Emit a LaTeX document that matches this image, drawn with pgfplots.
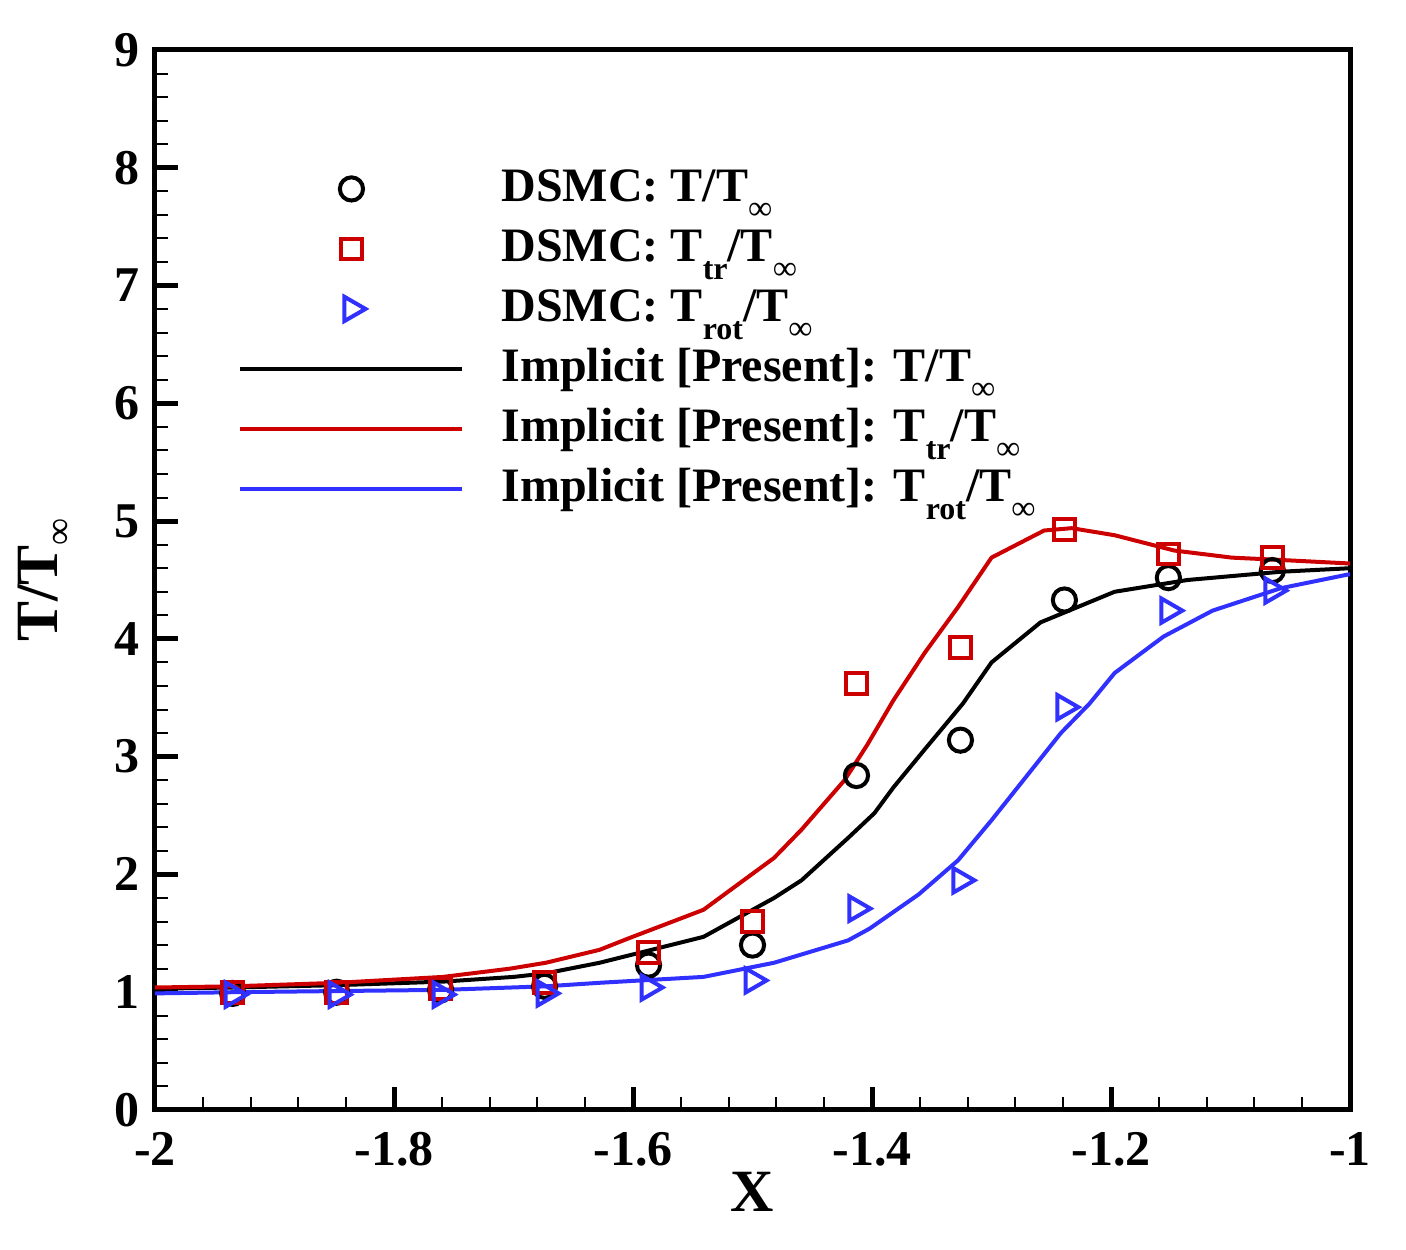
\documentclass[border=0pt]{standalone}
\usepackage{pgfplots}
\pgfplotsset{compat=1.18}
\usepackage{fontspec}
\setmainfont{Liberation Serif}
\definecolor{myred}{RGB}{204,0,0}
\definecolor{myblue}{RGB}{48,48,255}
\newcommand{\lsub}[1]{\raisebox{-9pt}{\fontsize{16}{16}\selectfont #1}}
\newcommand{\linf}{\raisebox{-9pt}{\fontsize{17}{17}\selectfont\mdseries ∞}}
\pgfplotsset{
  linelegend/.style={legend image code/.code={\draw[##1] (0pt,3.5pt) -- (111pt,3.5pt);}},
  marklegend/.style={legend image code/.code={\draw[##1] plot coordinates {(55.5pt,3.5pt)};}},
}
\begin{document}
\begin{tikzpicture}
\begin{axis}[
  scale only axis,
  width=597.5pt, height=530pt,
  xmin=-2, xmax=-1, ymin=0, ymax=9,
  xtick={-2,-1.8,-1.6,-1.4,-1.2,-1},
  xticklabels={-2,-1.8,-1.6,-1.4,-1.2,-1},
  ytick={0,1,2,3,4,5,6,7,8,9},
  yticklabels={0,1,2,3,4,5,6,7,8,9},
  minor x tick num=4, minor y tick num=4,
  tick align=inside, xtick pos=bottom, ytick pos=left,
  major tick length=11.5pt, minor tick length=6.5pt,
  major tick style={line width=2.5pt, black},
  minor tick style={line width=1pt, black},
  axis line style={line width=2.5pt, line cap=rect},
  xticklabel style={font=\fontsize{25}{25}\selectfont\bfseries, inner sep=0pt, anchor=north, yshift=-11pt},
  yticklabel style={font=\fontsize{25}{25}\selectfont\bfseries, inner sep=0pt, anchor=east, xshift=-7.5pt},
  xlabel={X},
  xlabel style={font=\fontsize{30}{30}\selectfont\bfseries, inner sep=0pt, at={(axis description cs:0.5,0)}, anchor=north, yshift=-31pt},
  ylabel={T/T\raisebox{-7pt}{\fontsize{19}{19}\selectfont\mdseries ∞}},
  ylabel style={font=\fontsize{30}{30}\selectfont\bfseries, inner sep=0pt, at={(axis description cs:-0.0695,0.5)}, anchor=south, rotate=0},
  legend style={draw=none, fill=none, inner sep=0pt, at={(0.0695,0.891)}, anchor=north west,
    font=\fontsize{24}{24}\selectfont\bfseries, column sep=18.5pt, row sep=0pt,
    nodes={inner sep=0pt, text height=18pt, text depth=12pt}},
  legend cell align=left,
  clip=true,
]
\addplot[only marks, mark=o, mark size=5.8pt, mark options={line width=2pt}, black, marklegend] coordinates {
(-1.935,0.99) (-1.848,1.00) (-1.761,1.02) (-1.674,1.05) (-1.587,1.23) (-1.500,1.40)
(-1.413,2.84) (-1.326,3.14) (-1.239,4.33) (-1.152,4.52) (-1.065,4.58)};
\addlegendentry{DSMC: T/T\linf}
\addplot[only marks, mark=square, mark size=5.2pt, mark options={line width=2pt}, myred, marklegend] coordinates {
(-1.935,1.00) (-1.848,1.00) (-1.761,1.03) (-1.674,1.08) (-1.587,1.34) (-1.500,1.60)
(-1.413,3.62) (-1.326,3.93) (-1.239,4.93) (-1.152,4.72) (-1.065,4.69)};
\addlegendentry{DSMC: T\lsub{tr}/T\linf}
\addplot[only marks, mark=triangle, mark size=7pt, mark options={line width=2pt, rotate=-90}, myblue, marklegend] coordinates {
(-1.935,0.98) (-1.848,0.98) (-1.761,0.98) (-1.674,0.99) (-1.587,1.04) (-1.500,1.10)
(-1.413,1.71) (-1.326,1.95) (-1.239,3.42) (-1.152,4.24) (-1.065,4.41)};
\addlegendentry{DSMC: T\lsub{rot}/T\linf}
\addplot[black, line width=2pt, linelegend] coordinates {
(-2.000,1.03) (-1.935,1.04) (-1.847,1.06) (-1.759,1.09) (-1.700,1.13) (-1.673,1.16)
(-1.628,1.25) (-1.541,1.47) (-1.482,1.80) (-1.459,1.95) (-1.420,2.31) (-1.398,2.52)
(-1.382,2.74) (-1.356,3.06) (-1.324,3.45) (-1.300,3.80) (-1.259,4.14) (-1.197,4.40)
(-1.136,4.50) (-1.058,4.57) (-1.000,4.60)};
\addlegendentry{Implicit [Present]: T/T\linf}
\addplot[myred, line width=2pt, linelegend] coordinates {
(-2.000,1.04) (-1.935,1.05) (-1.847,1.08) (-1.759,1.13) (-1.703,1.20) (-1.673,1.25)
(-1.628,1.36) (-1.603,1.46) (-1.541,1.70) (-1.482,2.14) (-1.459,2.38) (-1.423,2.80)
(-1.404,3.10) (-1.382,3.48) (-1.356,3.88) (-1.328,4.27) (-1.300,4.69) (-1.256,4.92)
(-1.233,4.94) (-1.197,4.88) (-1.147,4.75) (-1.099,4.69) (-1.058,4.67) (-1.000,4.64)};
\addlegendentry{Implicit [Present]: T\lsub{tr}/T\linf}
\addplot[myblue, line width=2pt, linelegend] coordinates {
(-2.000,0.99) (-1.935,1.00) (-1.847,1.01) (-1.759,1.02) (-1.673,1.05) (-1.628,1.08)
(-1.541,1.13) (-1.482,1.25) (-1.420,1.44) (-1.402,1.54) (-1.361,1.83) (-1.328,2.12)
(-1.300,2.46) (-1.271,2.83) (-1.242,3.20) (-1.218,3.45) (-1.197,3.71) (-1.156,4.02)
(-1.115,4.24) (-1.058,4.43) (-1.000,4.55)};
\addlegendentry{Implicit [Present]: T\lsub{rot}/T\linf}
\end{axis}
\path (current axis.south west) ++(-77.5pt,-70pt) rectangle ([shift={(28pt,25pt)}]current axis.north east);
\end{tikzpicture}
\end{document}
